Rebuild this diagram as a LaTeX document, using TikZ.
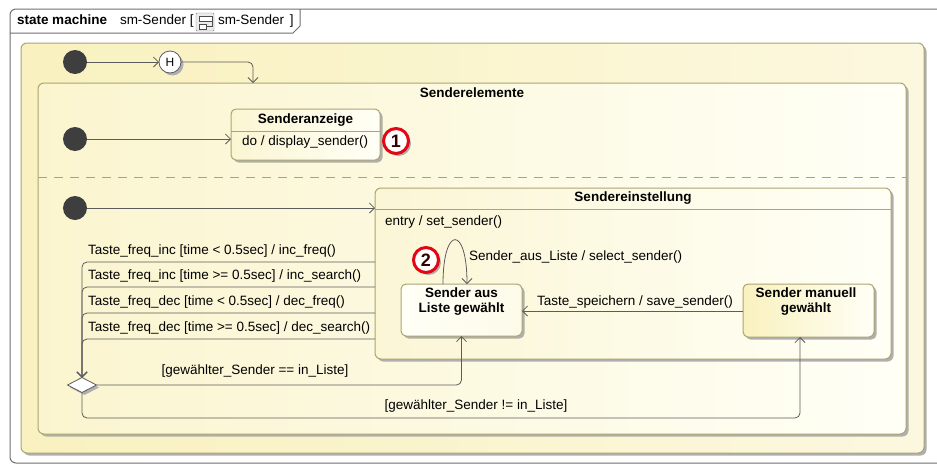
\documentclass[tikz,border=0pt]{standalone}
\usepackage{fontspec}
\setmainfont{Liberation Sans}
\usetikzlibrary{arrows.meta,shapes.geometric,shadows}
\definecolor{stY}{HTML}{F9F1BF}
\definecolor{stW}{HTML}{FFFFF6}
\definecolor{stB}{HTML}{ABA572}
\definecolor{lnC}{HTML}{5C5C5C}
\definecolor{shC}{HTML}{AFAFAF}
\definecolor{frC}{HTML}{707070}
\definecolor{dotC}{HTML}{3E3E3E}
\definecolor{bdgR}{HTML}{E30613}
\begin{document}
\begin{tikzpicture}[x=1pt,y=-1pt,
  every node/.style={font=\fontsize{13.5}{15.5}\selectfont, inner sep=0pt, outer sep=0pt},
  shad/.style={drop shadow={shadow xshift=2.5pt,shadow yshift=-2.5pt,fill=shC,opacity=1}},
  cbox/.style={draw=stB, line width=1pt, rounded corners=6pt, anchor=north west, shad},
  sbox/.style={draw=stB, line width=1pt, rounded corners=5pt, anchor=north west, shad},
  ttl/.style={font=\fontsize{13.5}{15.5}\selectfont\bfseries},
  lbl/.style={anchor=west},
  tr/.style={draw=lnC, line width=0.8pt, rounded corners=5pt, -{Straight Barb[length=5pt,width=10pt]}},
  initdot/.style={circle, fill=dotC, minimum size=24pt},
  badge/.style={circle, draw=bdgR, line width=3pt, fill=white, minimum size=25pt, shad, font=\fontsize{18}{18}\selectfont\bfseries, text=black!80!red}
]
\useasboundingbox (0,0) rectangle (937,464);
\fill[white] (0,0) rectangle (937,464);

% frame
\draw[frC, line width=1pt, rounded corners=6pt] (960,9) -- (10,9) -- (10,463) -- (960,463);
\draw[frC, line width=1pt] (10,33) -- (293,33) -- (300,26) -- (300,9);
\node[anchor=base west, ttl] (hd1) at (17,24) {state machine};
\node[anchor=base west] (hd2) at (120,24) {sm-Sender [};
\node[draw=gray, fill=gray!15, minimum width=18pt, minimum height=18pt, anchor=north west, rounded corners=1pt] (ico) at (196,13) {};
\draw[gray!60!black, fill=white, line width=0.5pt] (199,16) rectangle (212,21);
\draw[gray!60!black, fill=white, line width=0.5pt] (199,24) rectangle (206,29);
\draw[gray!60!black, line width=0.5pt] (206,26.5) -- (212,26.5) -- (212,22);
\node[anchor=base west] (hd3) at (218,24) {sm-Sender\hspace{2pt} ]};

% composite states
\node[cbox, left color=stY, right color=stY!50!white, minimum width=903pt, minimum height=410pt] (outer) at (21,43) {};
\node[cbox, left color=stY!75!white, right color=stW, minimum width=868pt, minimum height=351pt] (se0) at (38,83) {};
\node[ttl] (se0t) at (472,93) {Senderelemente};
\draw[stB, line width=1pt, dash pattern=on 9pt off 7pt] (se0.west |- 0,177) -- (se0.east |- 0,177);

% top-level initial and history
\node[initdot] (i0) at (75,62) {};
\node[circle, draw=lnC, line width=0.8pt, fill=white, minimum size=22pt, shad, font=\fontsize{12}{12}\selectfont] (hh) at (170,62) {H};
\draw[tr] (i0) -- (hh);
\draw[tr] (hh.east) -| (se0.north west -| 253,0);

% Senderanzeige
\node[sbox, left color=stY!70!white, right color=stW, minimum width=149pt, minimum height=51pt] (sa) at (231,109) {};
\draw[stB, line width=1pt] (sa.west |- 0,131) -- (sa.east |- 0,131);
\node[ttl] (sat) at (305.5,120) {Senderanzeige};
\node[lbl] (sad) at (242,142) {do / display\_sender()};
\node[initdot] (i1) at (75,139) {};
\draw[tr] (i1) -- (sa.west |- i1);
\node[badge] (b1) at (396,141) {1};

% Sendereinstellung
\node[sbox, rounded corners=6pt, left color=stY!65!white, right color=stW, minimum width=516pt, minimum height=171pt] (sei) at (375,188) {};
\draw[stB, line width=1pt] (sei.west |- 0,209) -- (sei.east |- 0,209);
\node[ttl] (seit) at (633,198) {Sendereinstellung};
\node[lbl] (seie) at (385,222) {entry / set\_sender()};
\node[initdot] (i2) at (75,208) {};
\draw[tr] (i2) -- (sei.west |- i2);

% substates
\node[sbox, left color=stW, right color=stY!35!white, minimum width=121pt, minimum height=52pt] (sal) at (401,284) {};
\node[ttl, align=center] (salt) at (461.5,301.5) {Sender aus\\Liste gewählt};
\node[sbox, left color=stY, right color=stW, minimum width=131pt, minimum height=53pt] (smg) at (743,284) {};
\node[ttl, align=center] (smgt) at (806,301.5) {Sender manuell\\gewählt};

% self loop
\draw[tr] (sal.north -| 443,0) .. controls (443,225) and (467,225) .. (sal.north -| 467,0);
\node[lbl] (loopl) at (469,257) {Sender\_aus\_Liste / select\_sender()};
\node[badge] (b2) at (426,260) {2};

% save transition
\draw[tr] (smg.west |- 0,311) -- (sal.east |- 0,311);
\node[lbl] (savl) at (537,302) {Taste\_speichern / save\_sender()};

% choice
\node[diamond, draw=lnC, line width=0.8pt, fill=white, minimum width=29pt, minimum height=15pt, shad] (dia) at (82,385) {};

\foreach \yy in {262,287,313,339} {
  \draw[tr] (sei.west |- 0,\yy) -- (dia.north |- 0,\yy) -- (dia.north);
}
\node[lbl] (t1) at (88,251) {Taste\_freq\_inc [time < 0.5sec] / inc\_freq()};
\node[lbl] (t2) at (88,276) {Taste\_freq\_inc [time >= 0.5sec] / inc\_search()};
\node[lbl] (t3) at (88,302) {Taste\_freq\_dec [time < 0.5sec] / dec\_freq()};
\node[lbl] (t4) at (88,328) {Taste\_freq\_dec [time >= 0.5sec] / dec\_search()};

\draw[tr] (dia.east) -| (sal.south);
\node (g1) at (255,371) {[gewählter\_Sender == in\_Liste]};
\coordinate (c2) at (800,418);
\draw[tr] (dia.south) |- (c2) -- (smg.south -| c2);
\node (g2) at (476,406) {[gewählter\_Sender != in\_Liste]};
\end{tikzpicture}
\end{document}
